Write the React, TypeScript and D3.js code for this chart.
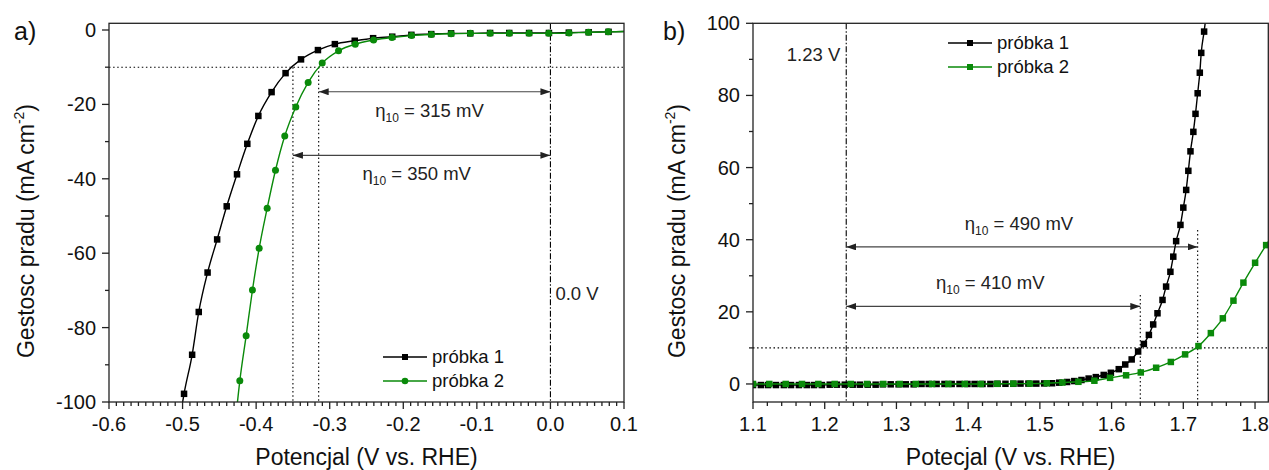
import React from "react";
import * as d3 from "d3";

const width = 1269;
const height = 470;
const font = "'Liberation Sans', Arial, Helvetica, sans-serif";
const green = "#0a8a0a";

// panel a) HER: potential (V vs RHE) / current density (mA cm-2)
const aPot1 = [-0.504, -0.498, -0.487, -0.478, -0.466, -0.453, -0.44, -0.426, -0.412, -0.397, -0.379, -0.36, -0.339, -0.316, -0.293, -0.266, -0.241, -0.215, -0.189, -0.162, -0.135, -0.109, -0.082, -0.056, -0.029, -0.002, 0.025, 0.052, 0.079, 0.105];
const aCur1 = [-105, -97.8, -87.3, -75.8, -65.2, -56.3, -47.4, -38.8, -30.6, -23.1, -16.7, -11.6, -7.9, -5.4, -3.8, -2.9, -2.2, -1.8, -1.3, -1.1, -0.9, -0.9, -0.8, -0.8, -0.8, -0.8, -0.7, -0.6, -0.5, -0.4];
const aPot2 = [-0.428, -0.4222, -0.4136, -0.405, -0.3959, -0.385, -0.3737, -0.3611, -0.3461, -0.3293, -0.3102, -0.288, -0.2653, -0.2404, -0.2154, -0.1887, -0.1619, -0.135, -0.1088, -0.082, -0.0558, -0.029, -0.0023, 0.0254, 0.0517, 0.0785, 0.105];
const aCur2 = [-105, -94.3, -82.2, -69.9, -58.7, -47.9, -37.7, -28.5, -20.7, -14.1, -8.9, -5.6, -3.8, -2.7, -2.0, -1.5, -1.2, -1.0, -0.9, -0.9, -0.9, -0.9, -0.9, -0.8, -0.6, -0.5, -0.4];
const aXTicks = [-0.6, -0.5, -0.4, -0.3, -0.2, -0.1, 0.0, 0.1];
const aYTicks = [-100, -80, -60, -40, -20, 0];
const aYMinor = [-90, -70, -50, -30, -10];
const aOnset = [-0.35, -0.315];
const aArrowY = [-16.6, -33.7];
const aArrowText = ["315 mV", "350 mV"];

// panel b) OER
const bPot1 = [1.1, 1.111, 1.121, 1.132, 1.143, 1.153, 1.164, 1.175, 1.185, 1.196, 1.207, 1.217, 1.228, 1.239, 1.249, 1.26, 1.271, 1.281, 1.292, 1.303, 1.313, 1.324, 1.335, 1.345, 1.356, 1.367, 1.377, 1.388, 1.399, 1.409, 1.42, 1.431, 1.441, 1.452, 1.463, 1.473, 1.484, 1.495, 1.506, 1.517, 1.527, 1.538, 1.548, 1.558, 1.568, 1.578, 1.589, 1.599, 1.61, 1.619, 1.628, 1.637, 1.645, 1.652, 1.658, 1.664, 1.671, 1.676, 1.682, 1.686, 1.69, 1.696, 1.7, 1.704, 1.707, 1.71, 1.714, 1.717, 1.72, 1.723, 1.725, 1.729, 1.733];
const bCur1 = [-0.3, -0.3, -0.3, -0.3, -0.3, -0.3, -0.3, -0.3, -0.3, -0.3, -0.2, -0.2, -0.2, -0.2, -0.2, -0.2, -0.2, -0.1, -0.1, -0.1, -0.1, -0.1, 0, 0, 0, 0, 0, 0, 0, 0, 0, 0, 0.05, 0.05, 0.05, 0.1, 0.1, 0.1, 0.15, 0.2, 0.36, 0.55, 0.8, 1.1, 1.5, 1.9, 2.5, 3.1, 4.1, 5.4, 6.8, 9.0, 11.1, 13.6, 16.5, 19.6, 23.3, 27.0, 31.1, 35.3, 39.6, 44.1, 48.9, 53.8, 59.1, 64.5, 69.9, 74.9, 80.6, 86.3, 91.8, 97.7, 104];
const bPot2 = [1.1, 1.1227, 1.1456, 1.1683, 1.1911, 1.2139, 1.2363, 1.259, 1.2817, 1.3046, 1.3269, 1.3497, 1.3724, 1.3953, 1.4176, 1.4403, 1.463, 1.4859, 1.5096, 1.5314, 1.5537, 1.576, 1.5979, 1.6202, 1.6407, 1.6621, 1.6826, 1.7025, 1.7211, 1.7384, 1.7551, 1.7699, 1.7838, 1.8001, 1.8155, 1.83];
const bCur2 = [0, 0, 0, 0, 0, 0, 0, 0, 0, 0, 0, 0, 0, 0, 0, 0.05, 0.1, 0.1, 0.2, 0.4, 0.6, 0.9, 1.7, 2.4, 3.2, 4.5, 6.1, 8.2, 10.5, 14.1, 18.2, 23.1, 28.1, 33.6, 38.5, 43.1];
const bXTicks = [1.1, 1.2, 1.3, 1.4, 1.5, 1.6, 1.7, 1.8];
const bYTicks = [0, 20, 40, 60, 80, 100];
const bYMinor = [10, 30, 50, 70, 90];
const bOnset = [1.64, 1.72];
const bOnsetTop = [24.7, 42.7];
const bArrowY = [21.5, 38];
const bArrowText = ["410 mV", "490 mV"];

const seriesNames = ["próbka 1", "próbka 2"];

const zip = (xs: number[], ys: number[]) => xs.map((v, i) => [v, ys[i]] as [number, number]);

function Axes({ x, y, xTicks, xMinor, yTicks, yMinor, xFmt }: any) {
  const [x0, x1] = x.range();
  const [y0, y1] = y.range();
  return (
    <g stroke="#222" strokeWidth={1.3}>
      {xMinor.map((v: number) => (
        <line key={"xm" + v} x1={x(v)} x2={x(v)} y1={y0} y2={y0 + 4} />
      ))}
      {xTicks.map((v: number) => (
        <g key={"x" + v}>
          <line x1={x(v)} x2={x(v)} y1={y0} y2={y0 + 7} />
          <text x={x(v)} y={y0 + 29} textAnchor="middle" stroke="none" fill="#111" fontSize={20}>
            {xFmt(v)}
          </text>
        </g>
      ))}
      {yMinor.map((v: number) => (
        <line key={"ym" + v} x1={x0 - 4} x2={x0} y1={y(v)} y2={y(v)} />
      ))}
      {yTicks.map((v: number) => (
        <g key={"y" + v}>
          <line x1={x0 - 7} x2={x0} y1={y(v)} y2={y(v)} />
          <text x={x0 - 13} y={y(v) + 7} textAnchor="end" stroke="none" fill="#111" fontSize={20}>
            {String(v)}
          </text>
        </g>
      ))}
      <rect x={x0} y={y1} width={x1 - x0} height={y0 - y1} fill="none" />
    </g>
  );
}

function Eta({ x, y, label }: { x: number; y: number; label: string }) {
  return (
    <text x={x} y={y} textAnchor="middle" fontSize={18.5} fill="#222">
      η<tspan fontSize={12} dy={5}>10</tspan>
      <tspan dy={-5}>{" = " + label}</tspan>
    </text>
  );
}

function Legend({ x, y, shapes }: { x: number; y: number; shapes: string[] }) {
  const colors = ["#000", green];
  return (
    <g>
      {seriesNames.map((name, i) => (
        <g key={name}>
          <line x1={x} x2={x + 44} y1={y + i * 24} y2={y + i * 24} stroke={colors[i]} strokeWidth={1.4} />
          {shapes[i] === "circle" ? (
            <circle cx={x + 22} cy={y + i * 24} r={3.3} fill={colors[i]} />
          ) : (
            <rect x={x + 19} y={y + i * 24 - 3} width={6} height={6} fill={colors[i]} />
          )}
          <text x={x + 49} y={y + i * 24 + 6} fontSize={18.5} fill="#111">
            {name}
          </text>
        </g>
      ))}
    </g>
  );
}

function Series({ x, y, pts, color, shape, size }: any) {
  const line = d3
    .line<[number, number]>()
    .x((d) => x(d[0]))
    .y((d) => y(d[1]))
    .curve(d3.curveMonotoneX);
  return (
    <g>
      <path d={line(pts) || ""} fill="none" stroke={color} strokeWidth={1.4} />
      {pts.map((d: [number, number], i: number) =>
        shape === "circle" ? (
          <circle key={i} cx={x(d[0])} cy={y(d[1])} r={size / 2} fill={color} />
        ) : (
          <rect key={i} x={x(d[0]) - size / 2} y={y(d[1]) - size / 2} width={size} height={size} fill={color} />
        )
      )}
    </g>
  );
}

function YTitle({ cx }: { cx: number }) {
  return (
    <text transform={`translate(${cx},231) rotate(-90)`} textAnchor="middle" fontSize={23} fill="#111">
      Gestosc pradu (mA cm<tspan fontSize={14} dy={-10}>-2</tspan><tspan dy={10}>)</tspan>
    </text>
  );
}

function PanelA() {
  const x = d3.scaleLinear().domain([-0.6, 0.1]).range([109, 624]);
  const y = d3.scaleLinear().domain([-100, 1.8]).range([402, 23.3]);
  const xMinor = d3.range(-60, 11).map((v) => v / 100).filter((v) => Math.round(v * 100) % 10 !== 0);
  const [x0, x1] = x.range();
  const [yb, yt] = y.range();
  return (
    <g>
      <defs>
        <clipPath id="clipA">
          <rect x={x0} y={yt} width={x1 - x0} height={yb - yt} />
        </clipPath>
      </defs>
      <line x1={x0} x2={x1} y1={y(-10)} y2={y(-10)} stroke="#000" strokeWidth={1.1} strokeDasharray="1.5 2.6" />
      {aOnset.map((v) => (
        <line key={v} x1={x(v)} x2={x(v)} y1={y(-10)} y2={yb} stroke="#000" strokeWidth={1.1} strokeDasharray="1.5 2.6" />
      ))}
      <line x1={x(0)} x2={x(0)} y1={yt} y2={yb} stroke="#000" strokeWidth={1.1} strokeDasharray="6 2 1.5 2" />
      {aArrowY.map((v, i) => (
        <g key={v}>
          <line x1={x(aOnset[aOnset.length - 1 - i])} x2={x(0)} y1={y(v)} y2={y(v)} stroke="#444" strokeWidth={1.2}
            markerStart="url(#arrow)" markerEnd="url(#arrow)" />
          <Eta x={(x(aOnset[aOnset.length - 1 - i]) + x(0)) / 2 - 5} y={y(v) + 25} label={aArrowText[i]} />
        </g>
      ))}
      <text x={x(0) + 5} y={y(-72.5)} fontSize={18.5} fill="#222">0.0 V</text>
      <g clipPath="url(#clipA)">
        <Series x={x} y={y} pts={zip(aPot1, aCur1)} color="#000" shape="square" size={6.5} />
        <Series x={x} y={y} pts={zip(aPot2, aCur2)} color={green} shape="circle" size={7} />
      </g>
      <Axes x={x} y={y} xTicks={aXTicks} xMinor={xMinor} yTicks={aYTicks} yMinor={aYMinor} xFmt={(v: number) => v.toFixed(1)} />
      <Legend x={383} y={357} shapes={["square", "circle"]} />
      <text x={14} y={40} fontSize={25} fill="#111">a)</text>
      <YTitle cx={34} />
      <text x={(x0 + x1) / 2} y={465} textAnchor="middle" fontSize={23} fill="#111">Potencjal (V vs. RHE)</text>
    </g>
  );
}

function PanelB() {
  const x = d3.scaleLinear().domain([1.1, 1.8185]).range([753, 1268.3]);
  const y = d3.scaleLinear().domain([-5, 100]).range([402, 23.3]);
  const xMinor = d3.range(55, 91).map((v) => v / 50).filter((v) => Math.round(v * 100) % 10 !== 0);
  const [x0, x1] = x.range();
  const [yb, yt] = y.range();
  return (
    <g>
      <defs>
        <clipPath id="clipB">
          <rect x={x0} y={yt} width={x1 - x0} height={yb - yt} />
        </clipPath>
      </defs>
      <line x1={x0} x2={x1} y1={y(10)} y2={y(10)} stroke="#000" strokeWidth={1.1} strokeDasharray="1.5 2.6" />
      {bOnset.map((v, i) => (
        <line key={v} x1={x(v)} x2={x(v)} y1={y(bOnsetTop[i])} y2={yb} stroke="#000" strokeWidth={1.1} strokeDasharray="1.5 2.6" />
      ))}
      <line x1={x(1.23)} x2={x(1.23)} y1={yt} y2={yb} stroke="#000" strokeWidth={1.1} strokeDasharray="6 2 1.5 2" />
      {bArrowY.map((v, i) => (
        <g key={v}>
          <line x1={x(1.23)} x2={x(bOnset[i])} y1={y(v)} y2={y(v)} stroke="#444" strokeWidth={1.2}
            markerStart="url(#arrow)" markerEnd="url(#arrow)" />
          <Eta x={(x(1.23) + x(bOnset[i])) / 2 - 3} y={y(v) - 17} label={bArrowText[i]} />
        </g>
      ))}
      <text x={x(1.23) - 6} y={y(89.5)} textAnchor="end" fontSize={18.5} fill="#222">1.23 V</text>
      <g clipPath="url(#clipB)">
        <Series x={x} y={y} pts={zip(bPot1, bCur1)} color="#000" shape="square" size={6.5} />
        <Series x={x} y={y} pts={zip(bPot2, bCur2)} color={green} shape="square" size={6.5} />
      </g>
      <Axes x={x} y={y} xTicks={bXTicks} xMinor={xMinor} yTicks={bYTicks} yMinor={bYMinor} xFmt={(v: number) => v.toFixed(1)} />
      <Legend x={948} y={43} shapes={["square", "square"]} />
      <text x={663} y={40} fontSize={25} fill="#111">b)</text>
      <YTitle cx={685} />
      <text x={(x0 + x1) / 2} y={465} textAnchor="middle" fontSize={23} fill="#111">Potecjal (V vs. RHE)</text>
    </g>
  );
}

export default function App() {
  return (
    <svg width={width} height={height} style={{ position: "absolute", left: 0, top: 0, background: "#fff" }}
      fontFamily={font}>
      <defs>
        <marker id="arrow" viewBox="0 0 10 7" refX={10} refY={3.5} markerWidth={10} markerHeight={7}
          markerUnits="userSpaceOnUse" orient="auto-start-reverse">
          <path d="M0,0 L10,3.5 L0,7 z" fill="#222" />
        </marker>
      </defs>
      <rect width={width} height={height} fill="#fff" />
      <PanelA />
      <PanelB />
    </svg>
  );
}
